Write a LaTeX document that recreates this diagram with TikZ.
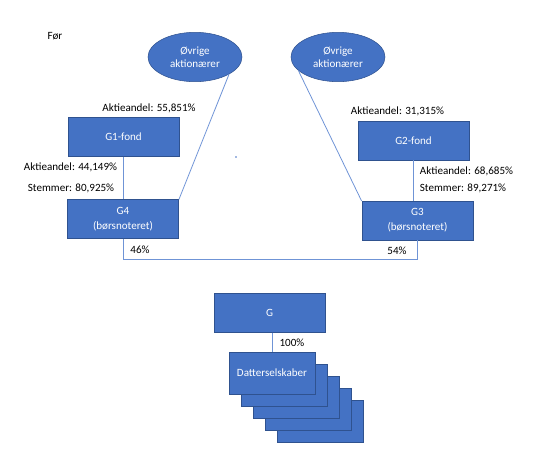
\documentclass[tikz,border=0pt]{standalone}
\usepackage{fontspec}
\setmainfont{Carlito}
\usetikzlibrary{shapes.geometric}

\definecolor{boxblue}{HTML}{4472C4}
\definecolor{boxedge}{HTML}{2F528F}
\definecolor{lineblue}{HTML}{6F94D6}

\begin{document}
\begin{tikzpicture}[x=0.75pt, y=-0.75pt,
    every node/.style={font=\fontsize{8.3}{11.2}\selectfont},
    box/.style={draw=boxedge, line width=0.4pt, fill=boxblue, text=white, align=center,
        inner sep=0pt, minimum width=83.5pt, minimum height=29pt},
    owner/.style={ellipse, draw=boxedge, line width=0.4pt, fill=boxblue, text=white,
        align=center, inner sep=0pt, minimum width=70.5pt, minimum height=37pt,
        font=\fontsize{8.3}{9.8}\selectfont},
    sub/.style={box, minimum width=64.5pt, minimum height=31.5pt},
    link/.style={draw=lineblue, line width=0.6pt}]
    \useasboundingbox (0,0) rectangle (540,455);

    % Heading
    \node (foer) at (55,36) {Før};

    % Shareholders
    \node[owner] (ovl) at (195,57) {Øvrige\\aktionærer};
    \node[owner] (ovr) at (338,57) {Øvrige\\aktionærer};

    % Foundations and listed companies
    \node[box] (g1) at (123.5,137) {G1-fond};
    \node[box] (g4) at (123,219) {G4\\(børsnoteret)};
    \node[box] (g2) at (413.5,140.5) {G2-fond};
    \node[box] (g3) at (417.5,220.5) {G3\\(børsnoteret)};

    % Left side labels
    \node (a1) at (149,108) {Aktieandel: 55,851\%};
    \node (a2) at (70.5,167) {Aktieandel: 44,149\%};
    \node (s1) at (71,188) {Stemmer: 80,925\%};
    \node (p1) at (140,250) {46\%};

    % Right side labels
    \node (a3) at (397.5,111) {Aktieandel: 31,315\%};
    \node (a4) at (466.5,171) {Aktieandel: 68,685\%};
    \node (s2) at (463,188) {Stemmer: 89,271\%};
    \node (p2) at (397,251) {54\%};

    % Ownership lines
    \draw[link] (ovl.-27) -- (g4.north east);
    \draw[link] (ovr.199) -- (g3.north west);
    \draw[link] (g1.south) -- (g4.north -| g1.south);
    \draw[link] (g2.south) -- (g3.north -| g2.south);
    \draw[link] (g4.south) -- ++(0,21) -| (g3.south);

    \fill[boxblue] (236,157) circle (0.8);

    % Parent and subsidiaries
    \node[box] (g) at (269.5,313) {G};
    \foreach \i in {4,3,2,1} {
        \node[sub] (ds\i) at (272+12*\i,373+12*\i) {};
    }
    \node[sub] (ds0) at (272,373) {Datterselskaber};
    \draw[link] (g.south -| ds0.north) -- (ds0.north);
    \node (p3) at (292,343) {100\%};
\end{tikzpicture}
\end{document}
